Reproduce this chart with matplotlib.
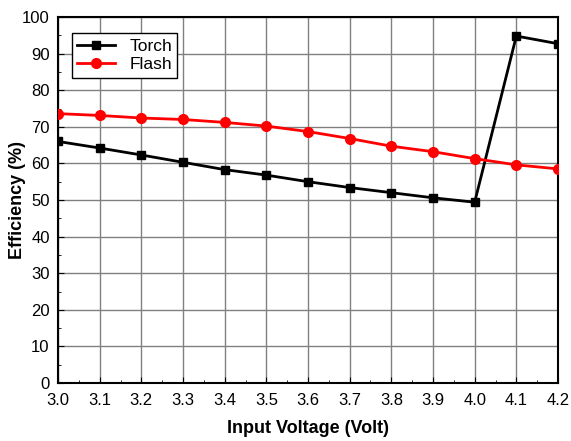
import matplotlib
matplotlib.use('Agg')
import matplotlib.pyplot as plt
from matplotlib.ticker import MultipleLocator

plt.rcParams['font.family'] = ['Liberation Sans', 'DejaVu Sans']

voltage = [3.0, 3.1, 3.2, 3.3, 3.4, 3.5, 3.6, 3.7, 3.8, 3.9, 4.0, 4.1, 4.2]
torch = [66.0, 64.2, 62.3, 60.3, 58.3, 56.8, 55.0, 53.4, 52.0, 50.6, 49.4, 94.8, 92.7]
flash = [73.6, 73.1, 72.4, 72.0, 71.2, 70.2, 68.7, 66.8, 64.7, 63.2, 61.3, 59.6, 58.5]

fig = plt.figure(figsize=(5.71, 4.41), dpi=100)
ax = fig.add_axes([58 / 571, 1 - 383 / 441, 500 / 571, 366 / 441])

ax.plot(voltage, torch, color='black', lw=2, marker='s', ms=6, label='Torch', zorder=3)
ax.plot(voltage, flash, color='red', lw=2, marker='o', ms=7, label='Flash', zorder=3)

ax.set_xlim(3.0, 4.2)
ax.set_ylim(0, 100)
ax.xaxis.set_major_locator(MultipleLocator(0.1))
ax.yaxis.set_major_locator(MultipleLocator(10))
ax.yaxis.set_minor_locator(MultipleLocator(5))
ax.xaxis.set_minor_locator(MultipleLocator(0.05))
ax.xaxis.set_major_formatter(plt.FormatStrFormatter('%.1f'))
ax.grid(True, which='major', color='#808080', lw=1)
ax.tick_params(which='both', direction='in', labelsize=12)
ax.tick_params(which='major', length=4)
ax.tick_params(which='minor', length=2)
ax.tick_params(axis='x', which='major', pad=7)
ax.tick_params(axis='y', which='major', pad=6)
for s in ax.spines.values():
    s.set_linewidth(1.5)

ax.set_xlabel('Input Voltage (Volt)', fontsize=13, fontweight='bold', labelpad=9)
ax.set_ylabel('Efficiency (%)', fontsize=13, fontweight='bold')
ax.yaxis.set_label_coords(-0.064, 0.5)

leg = ax.legend(loc='upper left', bbox_to_anchor=(0.028, 0.955), fontsize=12.5,
                fancybox=False, framealpha=1, edgecolor='black',
                handlelength=2.2, borderpad=0.3, labelspacing=0.2,
                borderaxespad=0)
leg.get_frame().set_linewidth(1)

fig.savefig('out.png', dpi=100)
